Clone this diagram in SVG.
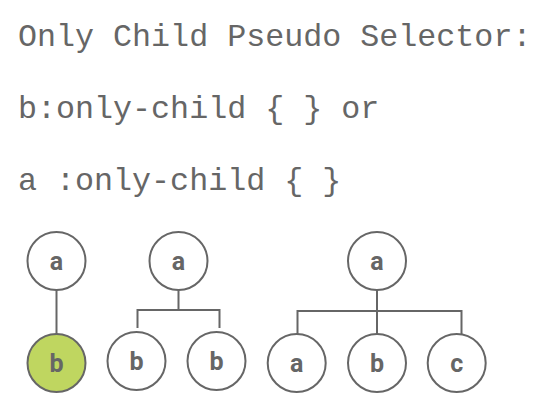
<svg xmlns="http://www.w3.org/2000/svg" width="538" height="402" viewBox="0 0 538 402">
<style>
.h{font-family:"Liberation Mono","DejaVu Sans Mono",monospace;font-size:31.7px;fill:#666}
.n circle{fill:#fff;stroke:#666;stroke-width:2}
.n text{font-family:Roboto,"Liberation Sans",sans-serif;font-weight:bold;font-size:25px;fill:#666;text-anchor:middle}
.n.hl circle{fill:#bfd660}
.c{fill:none;stroke:#666;stroke-width:2}
</style>
<rect width="538" height="402" fill="#fff"/>
<text class="h" x="18" y="46">Only Child Pseudo Selector:</text>
<text class="h" x="18" y="118">b:only-child { } or</text>
<text class="h" x="18" y="190">a :only-child { }</text>
<g id="connectors" class="c">
<path d="M56.5 290V334"/>
<path d="M178.5 290V310M137.5 328V310H219.5V328"/>
<path d="M377 290V334M297.5 334V311H461.5V334"/>
</g>
<g id="t1a" class="n"><circle cx="56.5" cy="261" r="29"/><text x="56.5" y="270">a</text></g>
<g id="t1b" class="n hl"><circle cx="56.5" cy="363" r="29"/><text x="56.5" y="372">b</text></g>
<g id="t2a" class="n"><circle cx="178.5" cy="261" r="29"/><text x="178.5" y="270">a</text></g>
<g id="t2b1" class="n"><circle cx="136.5" cy="361" r="29"/><text x="136.5" y="370">b</text></g>
<g id="t2b2" class="n"><circle cx="216.5" cy="361" r="29"/><text x="216.5" y="370">b</text></g>
<g id="t3a" class="n"><circle cx="377" cy="261" r="29"/><text x="377" y="270">a</text></g>
<g id="t3c1" class="n"><circle cx="296.7" cy="363" r="29"/><text x="296.7" y="372">a</text></g>
<g id="t3c2" class="n"><circle cx="377" cy="363" r="29"/><text x="377" y="372">b</text></g>
<g id="t3c3" class="n"><circle cx="456.7" cy="363" r="29"/><text x="456.7" y="372">c</text></g>
</svg>
